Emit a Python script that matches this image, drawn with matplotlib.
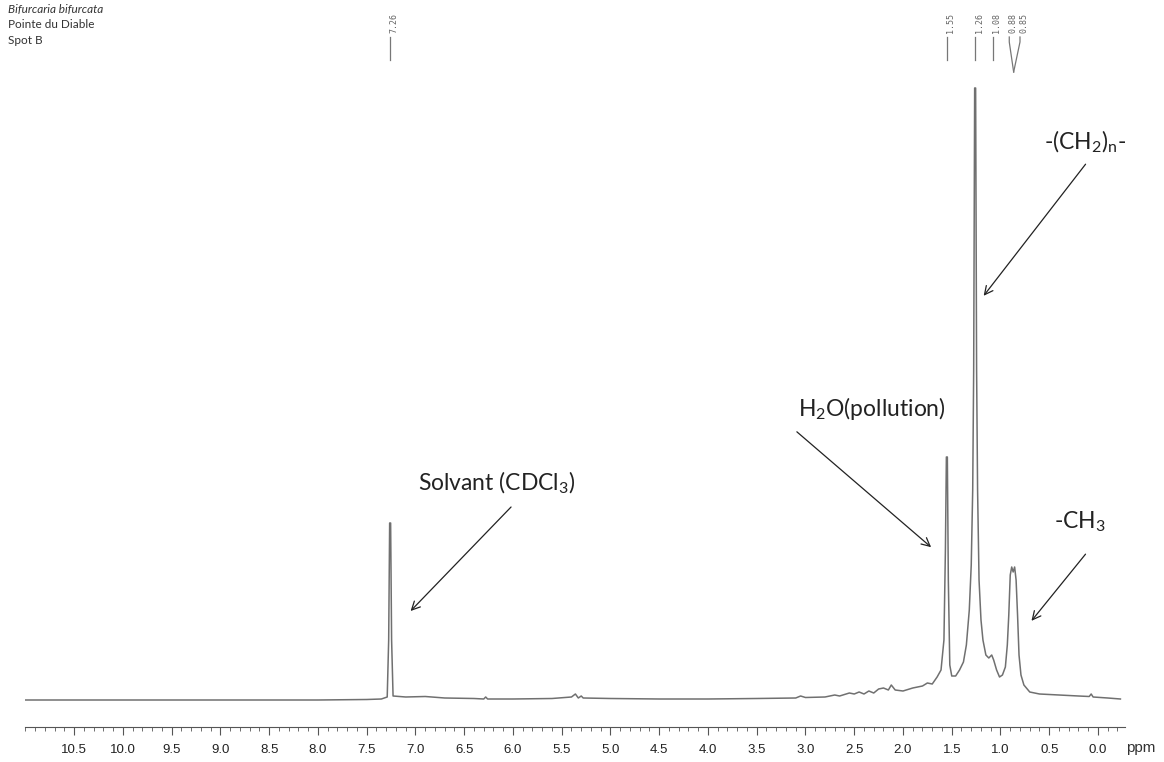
import matplotlib
matplotlib.use("Agg")
import matplotlib.pyplot as plt
from matplotlib.ticker import MultipleLocator

plt.rcParams['font.family'] = ['Lato', 'DejaVu Sans']
plt.rcParams['mathtext.fontset'] = 'custom'
plt.rcParams['mathtext.rm'] = 'Lato'
plt.rcParams['mathtext.it'] = 'Lato:italic'

# traced 1H NMR spectrum (ppm, intensity)
spec_ppm = [11.0, 10.0, 9.0, 8.0, 7.5, 7.35, 7.29, 7.275, 7.265, 7.255, 7.245, 7.23,
            7.1, 6.9, 6.7, 6.4, 6.3, 6.28, 6.26, 6.0, 5.6, 5.4, 5.36, 5.33, 5.3, 5.28,
            5.0, 4.5, 4.0, 3.5, 3.1, 3.05, 3.0, 2.8, 2.7, 2.65, 2.55, 2.5, 2.45, 2.4,
            2.35, 2.3, 2.25, 2.2, 2.15, 2.12, 2.08, 2.0, 1.9, 1.8, 1.75, 1.7, 1.65,
            1.61, 1.58, 1.565, 1.555, 1.545, 1.535, 1.52, 1.5, 1.46, 1.42, 1.38, 1.35,
            1.32, 1.30, 1.285, 1.275, 1.265, 1.255, 1.245, 1.235, 1.22, 1.20, 1.18,
            1.15, 1.12, 1.09, 1.07, 1.04, 1.01, 0.98, 0.95, 0.93, 0.915, 0.9, 0.885,
            0.87, 0.855, 0.84, 0.825, 0.81, 0.79, 0.76, 0.7, 0.6, 0.4, 0.2, 0.09,
            0.07, 0.05, -0.1, -0.23]
spec_int = [0, 0, 0, 0, 0.5, 1, 3, 60, 177, 177, 60, 4,
            3, 3.5, 2, 1.5, 1, 3, 1, 1, 1.5, 3, 6, 2, 4, 2,
            1.5, 1, 1, 1.5, 2, 4, 2.5, 3, 5, 4, 7, 6, 8, 6,
            9, 7, 11, 12, 10, 15, 10, 9, 12, 14, 17, 16, 23,
            30, 60, 150, 243, 243, 120, 35, 24, 24, 30, 38, 55,
            90, 135, 210, 330, 612, 612, 330, 210, 120, 80, 60,
            45, 42, 45, 40, 30, 23, 25, 33, 55, 85, 125, 133,
            128, 133, 120, 85, 45, 25, 15, 8, 6, 5, 4, 3.5,
            6, 3, 2, 1]

peak_labels = ['7.26', '1.55', '1.26', '1.08', '0.88', '0.85']
peak_pos = [7.26, 1.55, 1.26, 1.08, 0.88, 0.85]
label_pos = [7.26, 1.55, 1.26, 1.08, 0.91, 0.80]

header_lines = ['Bifurcaria bifurcata', 'Pointe du Diable', 'Spot B']

W, H = 1164, 762
fig = plt.figure(figsize=(W / 100, H / 100), dpi=100)
ax = fig.add_axes([25 / W, 1 - 727 / H, 1100 / W, 647 / H])

ax.plot(spec_ppm, spec_int, color='#707070', lw=1.1)
ax.set_xlim(11.005, -0.277)
ax.set_ylim(-27, 620)

for s in ['left', 'right', 'top']:
    ax.spines[s].set_visible(False)
ax.spines['bottom'].set_color('#555555')
ax.spines['bottom'].set_linewidth(0.8)
ax.set_yticks([])
ax.xaxis.set_minor_locator(MultipleLocator(0.1))
ax.set_xticks([x / 2 for x in range(0, 22)])
ax.set_xticklabels(['%.1f' % (x / 2) for x in range(0, 22)],
                   fontfamily='Liberation Sans', fontsize=9.5, color='#222222')
ax.tick_params(axis='x', which='major', direction='out', length=6, width=0.8,
               color='#555555', pad=6)
ax.tick_params(axis='x', which='minor', direction='out', length=3, width=0.6,
               color='#555555')
fig.text(1141 / W, 1 - 748 / H, 'ppm', fontfamily='Liberation Sans', fontsize=11,
         color='#333333', ha='center', va='center')

# header
fig.text(8 / W, 1 - 9 / H, header_lines[0], fontsize=8.5, style='italic',
         color='#333333', va='center')
fig.text(8 / W, 1 - 25 / H, header_lines[1], fontsize=8.5, color='#333333', va='center')
fig.text(8 / W, 1 - 41 / H, header_lines[2], fontsize=8.5, color='#333333', va='center')

# peak picking labels
for lab, p, lp in zip(peak_labels, peak_pos, label_pos):
    ax.text(lp - 0.04, 667, lab, rotation=90, fontsize=6, color='#666666',
            ha='center', va='bottom', fontfamily='DejaVu Sans Mono', clip_on=False)
    if lp == p:
        ax.plot([lp, lp], [663, 640], color='#777777', lw=0.9, clip_on=False)
    else:
        ax.plot([lp, lp, 0.865], [663, 658, 628], color='#777777', lw=0.9, clip_on=False)

# annotations
arrow = dict(arrowstyle='->', color='#222222', lw=0.9, mutation_scale=15)
txt = dict(fontsize=16.5, ha='center', va='center', color='#222222')

ax.annotate('', xy=(1.19, 402), xytext=(0.11, 538), arrowprops=arrow)
ax.text(0.13, 558, r'-(CH$_2$)$_\mathrm{n}$-', **txt)

ax.annotate('', xy=(1.69, 151), xytext=(3.11, 270), arrowprops=arrow)
ax.text(2.32, 292, 'H$_2$O(pollution)', **txt)

ax.annotate('', xy=(7.07, 87), xytext=(6.0, 195), arrowprops=arrow)
ax.text(6.17, 217, 'Solvant (CDCl$_3$)', **txt)

ax.annotate('', xy=(0.70, 77), xytext=(0.11, 148), arrowprops=arrow)
ax.text(0.19, 178, '-CH$_3$', **txt)

fig.savefig('out.png', dpi=100)
